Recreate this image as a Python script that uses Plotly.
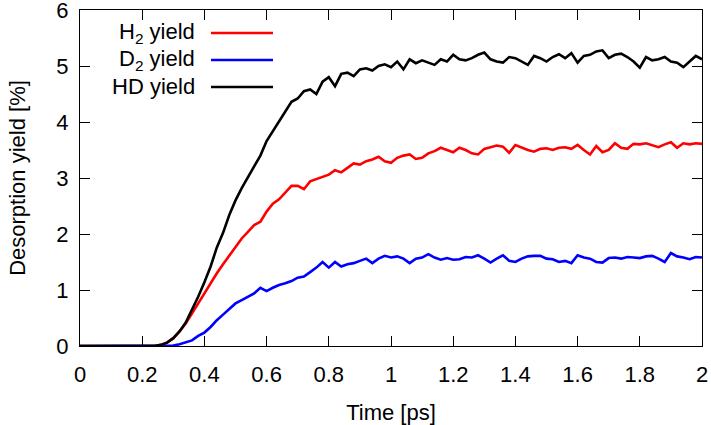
import plotly.graph_objects as go

time_ps = [0.00, 0.02, 0.04, 0.06, 0.08, 0.10, 0.12, 0.14, 0.16, 0.18,
           0.20, 0.22, 0.24, 0.26, 0.28, 0.30, 0.32, 0.34, 0.36, 0.38,
           0.40, 0.42, 0.44, 0.46, 0.48, 0.50, 0.52, 0.54, 0.56, 0.58,
           0.60, 0.62, 0.64, 0.66, 0.68, 0.70, 0.72, 0.74, 0.76, 0.78,
           0.80, 0.82, 0.84, 0.86, 0.88, 0.90, 0.92, 0.94, 0.96, 0.98,
           1.00, 1.02, 1.04, 1.06, 1.08, 1.10, 1.12, 1.14, 1.16, 1.18,
           1.20, 1.22, 1.24, 1.26, 1.28, 1.30, 1.32, 1.34, 1.36, 1.38,
           1.40, 1.42, 1.44, 1.46, 1.48, 1.50, 1.52, 1.54, 1.56, 1.58,
           1.60, 1.62, 1.64, 1.66, 1.68, 1.70, 1.72, 1.74, 1.76, 1.78,
           1.80, 1.82, 1.84, 1.86, 1.88, 1.90, 1.92, 1.94, 1.96, 1.98,
           2.00]

h2_yield = [0, 0, 0, 0, 0, 0, 0, 0, 0, 0,
            0, 0, 0, 0.02, 0.06, 0.14, 0.26, 0.40, 0.58, 0.76,
            0.96, 1.14, 1.30, 1.46, 1.62, 1.78, 1.92, 2.04, 2.16, 2.22,
            2.40, 2.54, 2.62, 2.74, 2.86, 2.86, 2.80, 2.94, 2.98, 3.02,
            3.06, 3.14, 3.10, 3.18, 3.26, 3.24, 3.30, 3.33, 3.38, 3.30,
            3.27, 3.36, 3.40, 3.42, 3.34, 3.36, 3.44, 3.48, 3.54, 3.50,
            3.46, 3.54, 3.50, 3.44, 3.42, 3.52, 3.55, 3.58, 3.56, 3.45,
            3.59, 3.54, 3.50, 3.47, 3.52, 3.53, 3.50, 3.54, 3.55, 3.52,
            3.59, 3.50, 3.42, 3.57, 3.46, 3.50, 3.62, 3.54, 3.52, 3.61,
            3.60, 3.62, 3.58, 3.55, 3.60, 3.64, 3.54, 3.62, 3.60, 3.62,
            3.61]

d2_yield = [0, 0, 0, 0, 0, 0, 0, 0, 0, 0,
            0, 0, 0, 0, 0, 0.01, 0.03, 0.06, 0.10, 0.18,
            0.24, 0.34, 0.46, 0.56, 0.66, 0.76, 0.82, 0.88, 0.94, 1.04,
            0.98, 1.04, 1.09, 1.12, 1.16, 1.22, 1.24, 1.32, 1.40, 1.50,
            1.40, 1.50, 1.42, 1.46, 1.48, 1.52, 1.56, 1.48, 1.56, 1.61,
            1.58, 1.60, 1.56, 1.48, 1.56, 1.58, 1.64, 1.58, 1.54, 1.57,
            1.54, 1.55, 1.59, 1.58, 1.62, 1.56, 1.49, 1.56, 1.62, 1.52,
            1.50, 1.56, 1.60, 1.61, 1.61, 1.56, 1.55, 1.50, 1.52, 1.48,
            1.62, 1.58, 1.56, 1.50, 1.49, 1.57, 1.58, 1.56, 1.59, 1.58,
            1.57, 1.60, 1.61, 1.56, 1.50, 1.66, 1.60, 1.58, 1.55, 1.59,
            1.58]

hd_yield = [0, 0, 0, 0, 0, 0, 0, 0, 0, 0,
            0, 0, 0, 0.02, 0.06, 0.14, 0.26, 0.42, 0.64, 0.88,
            1.14, 1.42, 1.76, 2.02, 2.34, 2.60, 2.82, 3.02, 3.22, 3.40,
            3.66, 3.84, 4.02, 4.18, 4.36, 4.42, 4.55, 4.58, 4.50, 4.72,
            4.80, 4.64, 4.86, 4.88, 4.82, 4.94, 4.96, 4.92, 5.00, 5.03,
            4.98, 5.08, 4.94, 5.12, 5.05, 5.10, 5.06, 5.02, 5.12, 5.08,
            5.20, 5.12, 5.10, 5.14, 5.20, 5.24, 5.12, 5.08, 5.06, 5.16,
            5.14, 5.08, 5.02, 5.18, 5.14, 5.08, 5.16, 5.21, 5.14, 5.23,
            5.06, 5.18, 5.20, 5.26, 5.28, 5.14, 5.20, 5.22, 5.16, 5.08,
            4.97, 5.16, 5.10, 5.12, 5.16, 5.08, 5.06, 4.98, 5.08, 5.18,
            5.12]

series_names = ["H<sub>2</sub> yield", "D<sub>2</sub> yield", "HD yield"]
series_colors = ["#ff0000", "#0000ff", "#000000"]
x_ticks = [0, 0.2, 0.4, 0.6, 0.8, 1.0, 1.2, 1.4, 1.6, 1.8, 2.0]
x_tick_text = ["0", "0.2", "0.4", "0.6", "0.8", "1", "1.2", "1.4", "1.6", "1.8", "2"]
y_ticks = [0, 1, 2, 3, 4, 5, 6]

FONT = "Liberation Sans, Arial, sans-serif"

fig = go.Figure()
for name, ys, col in zip(series_names, [h2_yield, d2_yield, hd_yield], series_colors):
    fig.add_trace(go.Scatter(x=time_ps, y=ys, mode="lines", name=name,
                             line=dict(color=col, width=2.6), showlegend=False))

# gnuplot-style key: right-aligned text with line sample on the right
legend_y = [0.9315, 0.851, 0.771]
for name, col, yy in zip(series_names, series_colors, legend_y):
    fig.add_annotation(xref="paper", yref="paper", x=0.188, y=yy, text=name,
                       showarrow=False, xanchor="right", yanchor="middle",
                       font=dict(family=FONT, size=22, color="black"))
    fig.add_shape(type="line", xref="paper", yref="paper", x0=0.2106, x1=0.3103,
                  y0=yy, y1=yy, line=dict(color=col, width=2.6))

axis_common = dict(showline=True, linecolor="black", linewidth=1.2, mirror="ticks",
                   ticks="inside", ticklen=10, tickcolor="black", tickwidth=1,
                   showgrid=False, zeroline=False, ticklabeloverflow="allow",
                   tickfont=dict(family=FONT, size=22, color="black"))

fig.update_xaxes(range=[0, 2], tickvals=x_ticks, ticktext=x_tick_text,
                 title=dict(text="Time [ps]", font=dict(family=FONT, size=22, color="black"),
                            standoff=20),
                 ticklabelstandoff=8, **axis_common)
fig.update_yaxes(range=[0, 6], tickvals=y_ticks,
                 title=dict(text="Desorption yield [%]", font=dict(family=FONT, size=22, color="black"),
                            standoff=24),
                 ticklabelstandoff=6, **axis_common)

fig.update_layout(width=711, height=425, margin=dict(l=80, r=9, t=10, b=79, autoexpand=False),
                  plot_bgcolor="white", paper_bgcolor="white",
                  font=dict(family=FONT, size=22, color="black"))

fig.write_html("out.html", config={"displayModeBar": False},
               post_script="document.body.style.margin='0';")
